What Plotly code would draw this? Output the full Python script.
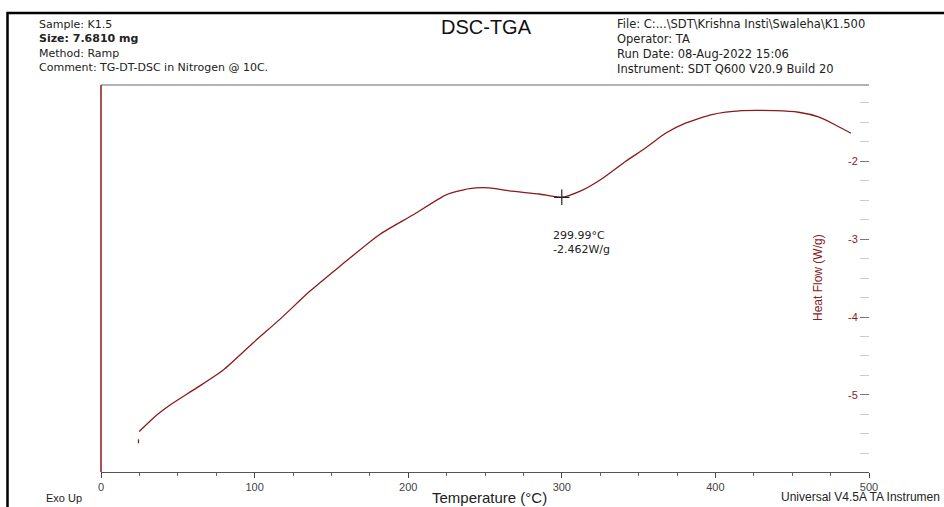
import plotly.graph_objects as go

# ---- data ----
temperature_c = [24.4, 24.4, None, 24.9, 35.0, 45.0, 62.3, 79.6, 99.1, 116.4, 135.9, 155.4, 181.4,
                 203.0, 224.7, 239.8, 252.8, 265.8, 285.3, 299.99, 313.4, 326.4, 341.6,
                 354.5, 367.5, 380.5, 397.8, 417.3, 439.0, 454.1, 467.1, 477.9, 488.3]
heat_flow_wg = [-5.62, -5.57, None, -5.47, -5.28, -5.13, -4.91, -4.68, -4.33, -4.03, -3.67, -3.35, -2.94,
                -2.69, -2.43, -2.35, -2.34, -2.38, -2.42, -2.462, -2.37, -2.22, -2.00,
                -1.83, -1.64, -1.51, -1.40, -1.35, -1.35, -1.37, -1.43, -1.53, -1.64]
marker_t = [299.99]
marker_hf = [-2.462]
x_ticks = [0, 100, 200, 300, 400, 500]
y_ticks = [-2, -3, -4, -5]

header_left = ["Sample: K1.5", "<b>Size: 7.6810 mg</b>", "Method: Ramp",
               "Comment: TG-DT-DSC in Nitrogen @ 10C."]
header_right = [r"File: C:...\SDT\Krishna Insti\Swaleha\K1.500", "Operator: TA",
                "Run Date: 08-Aug-2022 15:06", "Instrument: SDT Q600 V20.9 Build 20"]

# ---- layout geometry (pixels) ----
W, H = 944, 507
L, R, T, B = 101, 869, 85, 472


def px(x):
    return (x - L) / (R - L)


def py(y):
    return (B - y) / (B - T)


DARKRED = "#8B1A1A"
FONT = "Liberation Sans, Arial, sans-serif"
WIDE = "DejaVu Sans, Liberation Sans, sans-serif"

fig = go.Figure()
fig.add_trace(go.Scatter(x=temperature_c, y=heat_flow_wg, mode="lines",
                         line=dict(color=DARKRED, width=1.3, shape="spline", smoothing=0.6),
                         connectgaps=False, showlegend=False, hoverinfo="skip"))
fig.add_trace(go.Scatter(x=marker_t, y=marker_hf, mode="markers",
                         marker=dict(symbol="cross-thin", size=11,
                                     line=dict(color="#222", width=1.2)),
                         showlegend=False, hoverinfo="skip"))


def ann(text, x, y, size, color="#222", family=FONT, xanchor="left", **kw):
    return dict(text=text, x=px(x), y=py(y), xref="paper", yref="paper",
                xanchor=xanchor, yanchor="middle", showarrow=False, align="left",
                font=dict(family=family, size=size, color=color), **kw)


annotations = [
    ann("<br>".join(header_left), 36.5, 46, 11, family=WIDE),
    ann("<br>".join(header_right), 615, 46, 11.5, family=WIDE),
    ann("DSC-TGA", 486, 27, 20, color="#111", xanchor="center"),
    ann("299.99°C<br>-2.462W/g", 550.5, 242, 11, family=WIDE),
    ann("Heat Flow (W/g)", 817.5, 277.5, 12, color=DARKRED, xanchor="center", textangle=-90),
    ann("Temperature (°C)", 489, 497, 15, xanchor="center"),
    ann("Exo Up", 44, 498, 11),
    ann("Universal V4.5A TA Instrumen", 942, 497, 12, xanchor="right"),
]

shapes = [
    # outer black frame (extends past right and bottom edges)
    dict(type="rect", xref="paper", yref="paper", x0=px(7.5), x1=px(990), y0=py(560), y1=py(13),
         line=dict(color="black", width=2.5), fillcolor="rgba(0,0,0,0)"),
    # top gray border of plot
    dict(type="line", xref="paper", yref="paper", x0=0, x1=1, y0=1, y1=1,
         line=dict(color="#999", width=1.5)),
    # left dark-red axis line
    dict(type="line", xref="paper", yref="paper", x0=0, x1=0, y0=0, y1=1,
         line=dict(color=DARKRED, width=1.5)),
]

fig.update_layout(
    width=W, height=H,
    margin=dict(l=L, r=W - R, t=T, b=H - B),
    paper_bgcolor="white", plot_bgcolor="white",
    showlegend=False,
    annotations=annotations, shapes=shapes,
    xaxis=dict(range=[0, 500], tickvals=x_ticks, ticktext=[str(v) for v in x_ticks],
               anchor="y",
               showgrid=False, zeroline=False, showline=True, linecolor="#555", linewidth=1,
               ticks="outside", ticklen=5, tickcolor="#444", tickwidth=1,
               ticklabeloverflow="allow",
               minor=dict(dtick=25, ticks="outside", ticklen=3, tickcolor="#666"),
               tickfont=dict(family=FONT, size=11, color="#444")),
    # heat-flow axis drawn at the right edge of the plot, ticks and labels pointing left
    yaxis=dict(range=[-5.99, -1.02], side="left", anchor="free", position=1.0,
               tickvals=y_ticks, ticktext=[str(v) for v in y_ticks],
               showgrid=False, zeroline=False, showline=False,
               ticks="outside", ticklen=9, tickcolor="#777", tickwidth=1,
               minor=dict(dtick=0.25, ticks="outside", ticklen=9, tickcolor="#ccc"),
               tickfont=dict(family=FONT, size=11, color=DARKRED)),
)

fig.write_html("out.html", config={"displayModeBar": False, "staticPlot": True},
               post_script="document.body.style.margin='0px';")
